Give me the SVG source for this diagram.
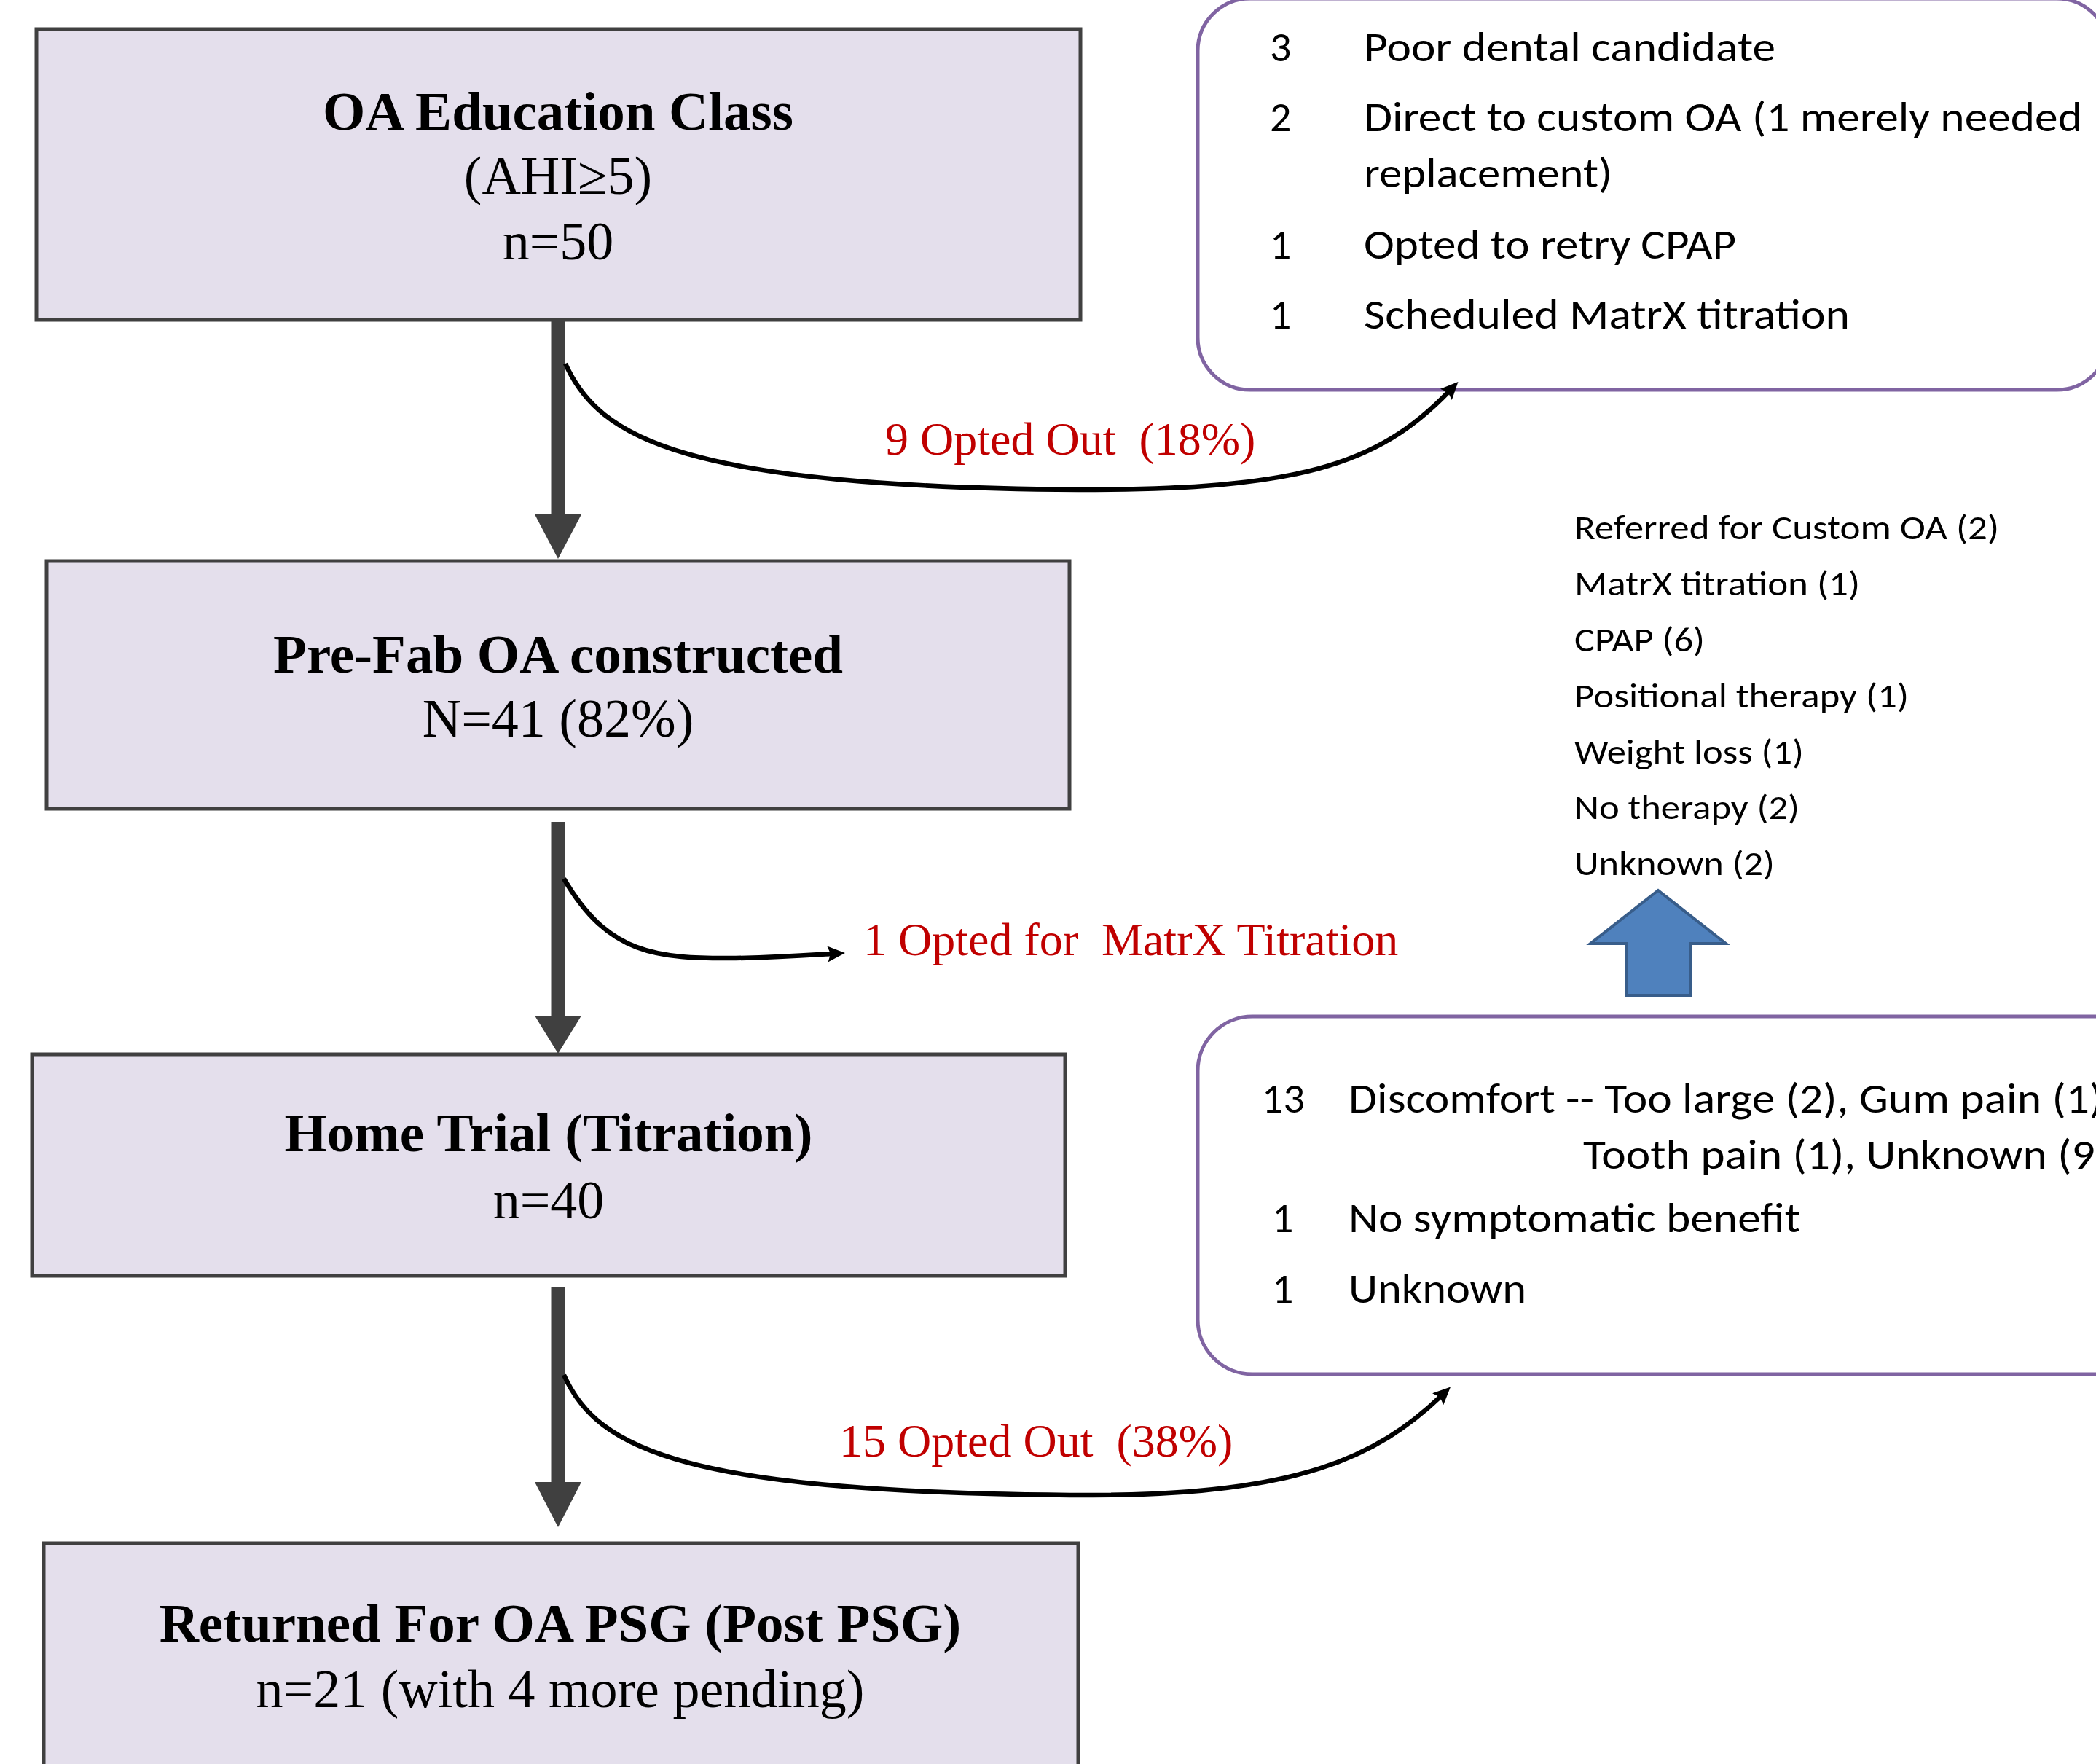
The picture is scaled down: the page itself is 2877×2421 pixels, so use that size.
<svg xmlns="http://www.w3.org/2000/svg" width="2877" height="2421" viewBox="0 0 2877 2421">
<style>
.box{fill:#E4DFEC;stroke:#404040;stroke-width:5}
.panel{fill:#FFFFFF;stroke:#8064A2;stroke-width:5}
.title{font-family:"Liberation Serif","Times New Roman",serif;font-weight:bold;font-size:75px;fill:#000;text-anchor:middle}
.sub{font-family:"Liberation Serif","Times New Roman",serif;font-size:74px;fill:#000;text-anchor:middle}
.lbl{font-family:"Liberation Serif","Times New Roman",serif;font-size:64px;fill:#C00000}
.cal{font-family:Carlito,Lato,"Open Sans",sans-serif;font-size:58px;fill:#000}
.cal2{font-family:Carlito,Lato,"Open Sans",sans-serif;font-size:48px;fill:#000}
.flow{stroke:#404040;stroke-width:19;fill:none}
.head{fill:#404040}
.curve{stroke:#000;stroke-width:6.5;fill:none;marker-end:url(#ah)}
</style>
<defs>
<marker id="ah" markerUnits="userSpaceOnUse" markerWidth="24" markerHeight="22" viewBox="0 0 24 22" refX="6" refY="11" orient="auto">
<path d="M0,0 L24,11 L0,22 L4,11 z" fill="#000"/>
</marker>
</defs>
<rect width="2877" height="2421" fill="#FFFFFF"/>

<g id="node-education">
<rect class="box" x="50" y="40" width="1433" height="399"/>
<text class="title" x="766" y="178">OA Education Class</text>
<text class="sub" x="766" y="266">(AHI≥5)</text>
<text class="sub" x="766" y="356">n=50</text>
</g>

<g id="node-prefab">
<rect class="box" x="64" y="770" width="1404" height="340"/>
<text class="title" x="766" y="923">Pre-Fab OA constructed</text>
<text class="sub" x="766" y="1011">N=41 (82%)</text>
</g>

<g id="node-hometrial">
<rect class="box" x="44" y="1447" width="1418" height="304"/>
<text class="title" x="753" y="1580">Home Trial (Titration)</text>
<text class="sub" x="753" y="1672">n=40</text>
</g>

<g id="node-returned">
<rect class="box" x="60" y="2118" width="1420" height="340"/>
<text class="title" x="769" y="2253">Returned For OA PSG (Post PSG)</text>
<text class="sub" x="769" y="2343">n=21 (with 4 more pending)</text>
</g>

<g id="node-optout1-reasons">
<rect class="panel" x="1644" y="-2" width="1251" height="537" rx="72" ry="72"/>
<text class="cal" x="1743" y="84">3</text>
<text class="cal" x="1872" y="84" textLength="565" lengthAdjust="spacingAndGlyphs">Poor dental candidate</text>
<text class="cal" x="1743" y="180">2</text>
<text class="cal" x="1872" y="180" textLength="986" lengthAdjust="spacingAndGlyphs">Direct to custom OA (1 merely needed</text>
<text class="cal" x="1872" y="257" textLength="341" lengthAdjust="spacingAndGlyphs">replacement)</text>
<text class="cal" x="1743" y="355">1</text>
<text class="cal" x="1872" y="355" textLength="511" lengthAdjust="spacingAndGlyphs">Opted to retry CPAP</text>
<text class="cal" x="1743" y="451">1</text>
<text class="cal" x="1872" y="451" textLength="667" lengthAdjust="spacingAndGlyphs">Scheduled MatrX titration</text>
</g>

<g id="node-outcomes">
<text class="cal2" x="2161" y="740" textLength="583" lengthAdjust="spacingAndGlyphs">Referred for Custom OA (2)</text>
<text class="cal2" x="2161" y="817" textLength="392" lengthAdjust="spacingAndGlyphs">MatrX titration (1)</text>
<text class="cal2" x="2161" y="894" textLength="179" lengthAdjust="spacingAndGlyphs">CPAP (6)</text>
<text class="cal2" x="2161" y="971" textLength="459" lengthAdjust="spacingAndGlyphs">Positional therapy (1)</text>
<text class="cal2" x="2161" y="1048" textLength="315" lengthAdjust="spacingAndGlyphs">Weight loss (1)</text>
<text class="cal2" x="2161" y="1124" textLength="309" lengthAdjust="spacingAndGlyphs">No therapy (2)</text>
<text class="cal2" x="2161" y="1201" textLength="275" lengthAdjust="spacingAndGlyphs">Unknown (2)</text>
</g>

<g id="node-up-arrow">
<polygon points="2276,1222 2369,1295 2320,1295 2320,1366 2232,1366 2232,1295 2183,1295" fill="#4F81BD" stroke="#385D8A" stroke-width="4" stroke-linejoin="miter"/>
</g>

<g id="node-optout2-reasons">
<rect class="panel" x="1644" y="1395" width="1330" height="491" rx="75" ry="75"/>
<text class="cal" x="1732" y="1527">13</text>
<text class="cal" x="1851" y="1527" textLength="1052" lengthAdjust="spacingAndGlyphs">Discomfort -- Too large (2), Gum pain (1),</text>
<text class="cal" x="2173" y="1604" textLength="722" lengthAdjust="spacingAndGlyphs">Tooth pain (1), Unknown (9)</text>
<text class="cal" x="1746" y="1691">1</text>
<text class="cal" x="1851" y="1691" textLength="620" lengthAdjust="spacingAndGlyphs">No symptomatic benefit</text>
<text class="cal" x="1746" y="1788">1</text>
<text class="cal" x="1851" y="1788" textLength="244" lengthAdjust="spacingAndGlyphs">Unknown</text>
</g>

<g id="connectors">
<line class="flow" x1="766" y1="439" x2="766" y2="708"/>
<polygon class="head" points="734,706 798,706 766,767"/>
<line class="flow" x1="766" y1="1128" x2="766" y2="1396"/>
<polygon class="head" points="734,1394 798,1394 766,1446"/>
<line class="flow" x1="766" y1="1767" x2="766" y2="2036"/>
<polygon class="head" points="734,2034 798,2034 766,2096"/>
<path class="curve" d="M 776 499 C 822 602, 940 668, 1480 672 C 1780 672, 1890 640, 1989 537"/>
<path class="curve" d="M 774 1206 C 835 1310, 900 1316, 1010 1315 C 1070 1314, 1110 1311, 1142 1309"/>
<path class="curve" d="M 774 1887 C 820 1990, 940 2050, 1500 2052 C 1780 2052, 1890 2000, 1978 1916"/>
</g>

<g id="edge-labels">
<text class="lbl" x="1215" y="624" xml:space="preserve">9 Opted Out  (18%)</text>
<text class="lbl" x="1185" y="1311" xml:space="preserve">1 Opted for  MatrX Titration</text>
<text class="lbl" x="1152" y="1999" xml:space="preserve">15 Opted Out  (38%)</text>
</g>
</svg>
